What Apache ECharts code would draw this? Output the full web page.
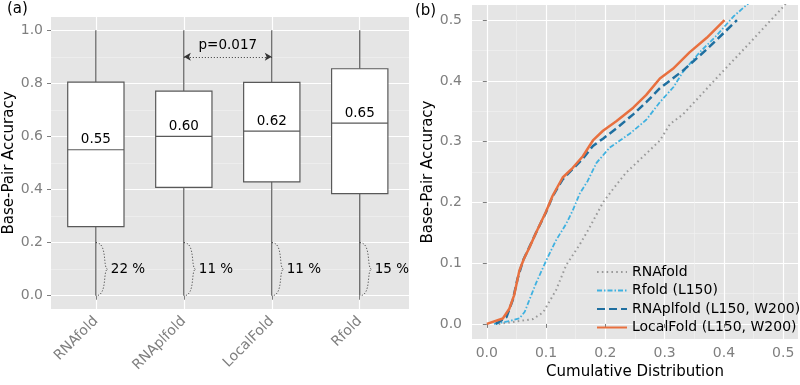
<!DOCTYPE html>
<html>
<head>
<meta charset="utf-8">
<script src="https://cdn.jsdelivr.net/npm/echarts@6/dist/echarts.min.js"></script>
<style>
  html, body { margin: 0; padding: 0; background: #fff; }
  #chart { width: 800px; height: 385px; }
</style>
</head>
<body>
<div id="chart"></div>
<script>
// panel (a): box statistics per method [min, q1, median, q3, max]
const categories = ['RNAfold', 'RNAplfold', 'LocalFold', 'Rfold'];
const boxMin = [0, 0, 0, 0];
const boxQ1 = [0.26, 0.408, 0.429, 0.385];
const boxMedian = [0.55, 0.60, 0.62, 0.65];
const boxQ3 = [0.805, 0.771, 0.804, 0.855];
const boxMax = [1.0, 1.0, 1.0, 1.0];
// share of cases below 0.2 accuracy
const lowShare = [22, 11, 11, 15];
const lowRange = [0, 0.2];
const pValueText = 'p=0.017';
const pValuePair = [2, 3]; // RNAplfold vs LocalFold
const pValueLevel = 0.9;

const ticksA = [0, 0.2, 0.4, 0.6, 0.8, 1.0];
const ticksB = [0, 0.1, 0.2, 0.3, 0.4, 0.5];

// panel (b): [cumulative distribution, base-pair accuracy]
const rnafold = [[0.02, 0], [0.05, 0.004], [0.078, 0.008], [0.095, 0.019], [0.117, 0.056], [0.134, 0.097],
  [0.157, 0.131], [0.173, 0.158], [0.196, 0.2], [0.213, 0.222], [0.235, 0.249], [0.247, 0.26], [0.275, 0.286],
  [0.292, 0.302], [0.309, 0.329], [0.331, 0.345], [0.387, 0.404], [0.444, 0.463], [0.5, 0.522], [0.51, 0.535]];
const rfold = [[0.012, 0], [0.035, 0.004], [0.055, 0.009], [0.064, 0.02], [0.072, 0.04], [0.083, 0.067],
  [0.1, 0.104], [0.117, 0.138], [0.134, 0.165], [0.145, 0.187], [0.157, 0.215], [0.17, 0.235], [0.185, 0.265],
  [0.207, 0.29], [0.241, 0.313], [0.269, 0.336], [0.292, 0.365], [0.315, 0.39], [0.331, 0.415], [0.359, 0.447],
  [0.387, 0.474], [0.416, 0.506], [0.45, 0.535]];
const rnaplfold = [[0.015, 0], [0.033, 0.011], [0.044, 0.04], [0.052, 0.075], [0.061, 0.104], [0.072, 0.127],
  [0.083, 0.15], [0.1, 0.184], [0.111, 0.21], [0.128, 0.238], [0.145, 0.255], [0.162, 0.272], [0.179, 0.293],
  [0.196, 0.305], [0.219, 0.322], [0.247, 0.345], [0.269, 0.365], [0.292, 0.388], [0.331, 0.417], [0.371, 0.452],
  [0.422, 0.5]];
const localfold = [[0, 0], [0.027, 0.009], [0.038, 0.025], [0.046, 0.047], [0.055, 0.088], [0.063, 0.108],
  [0.072, 0.126], [0.083, 0.15], [0.1, 0.185], [0.111, 0.211], [0.128, 0.241], [0.145, 0.257], [0.162, 0.276],
  [0.179, 0.302], [0.196, 0.318], [0.219, 0.334], [0.247, 0.356], [0.269, 0.377], [0.292, 0.404], [0.314, 0.42],
  [0.342, 0.447], [0.371, 0.471], [0.401, 0.5]];
const lineNames = ['RNAfold', 'Rfold (L150)', 'RNAplfold (L150, W200)', 'LocalFold (L150, W200)'];

const FONT = 'DejaVu Sans';
const GREY_TEXT = '#7f7f7f';
const BG = '#e5e5e5';

const chart = echarts.init(document.getElementById('chart'), null, { renderer: 'canvas' });

const boxData = categories.map((c, i) => [i + 1, boxMin[i], boxQ1[i], boxMedian[i], boxQ3[i], boxMax[i]]);
const braceData = categories.map((c, i) => [i + 1, lowRange[0], lowRange[1], lowShare[i]]);

function renderBox(params, api) {
  const x = api.value(0);
  const half = api.size([1, 0])[0] * 0.32;
  const pMin = api.coord([x, api.value(1)]);
  const pQ1 = api.coord([x, api.value(2)]);
  const pMed = api.coord([x, api.value(3)]);
  const pQ3 = api.coord([x, api.value(4)]);
  const pMax = api.coord([x, api.value(5)]);
  const stroke = '#595959';
  return {
    type: 'group',
    children: [
      { type: 'line', shape: { x1: pMin[0], y1: pMin[1], x2: pQ1[0], y2: pQ1[1] }, style: { stroke: stroke, lineWidth: 1.2 } },
      { type: 'line', shape: { x1: pQ3[0], y1: pQ3[1], x2: pMax[0], y2: pMax[1] }, style: { stroke: stroke, lineWidth: 1.2 } },
      { type: 'rect', shape: { x: pQ3[0] - half, y: pQ3[1], width: half * 2, height: pQ1[1] - pQ3[1] },
        style: { fill: '#fff', stroke: stroke, lineWidth: 1.2 } },
      { type: 'line', shape: { x1: pMed[0] - half, y1: pMed[1], x2: pMed[0] + half, y2: pMed[1] }, style: { stroke: stroke, lineWidth: 1.2 } },
      { type: 'text', style: { text: api.value(3).toFixed(2), x: pMed[0], y: pMed[1] - 3, align: 'center',
        verticalAlign: 'bottom', fill: '#000', font: '13.5px "DejaVu Sans"' } }
    ]
  };
}

function renderBrace(params, api) {
  const x = api.value(0);
  const top = api.coord([x, api.value(2)]);
  const bot = api.coord([x, api.value(1)]);
  const x0 = top[0], yt = top[1], yb = bot[1], ym = (yt + yb) / 2;
  const w = 12;
  const d = 'M' + x0 + ',' + yt +
    ' C' + (x0 + w) + ',' + yt + ' ' + (x0 + 0.55 * w) + ',' + ym + ' ' + (x0 + w) + ',' + ym +
    ' C' + (x0 + 0.55 * w) + ',' + ym + ' ' + (x0 + w) + ',' + yb + ' ' + x0 + ',' + yb;
  return {
    type: 'group',
    children: [
      { type: 'path', shape: { pathData: d }, style: { fill: 'none', stroke: '#333', lineWidth: 1, lineDash: [1, 2] } },
      { type: 'text', style: { text: api.value(3) + ' %', x: x0 + w + 3, y: ym, align: 'left', verticalAlign: 'middle',
        fill: '#000', font: '13.5px "DejaVu Sans"' } }
    ]
  };
}

const gridLine = { show: true, lineStyle: { color: '#fff', width: 1.2 } };
const minorLine = { show: true, lineStyle: { color: '#f2f2f2', width: 0.6 } };
const tickStyle = { show: true, length: 4, lineStyle: { color: GREY_TEXT } };

const option = {
  animation: false,
  backgroundColor: '#fff',
  textStyle: { fontFamily: FONT },
  graphic: [
    { type: 'text', left: 7, top: 2, style: { text: '(a)', font: '15px "DejaVu Sans"', fill: '#000' } },
    { type: 'text', left: 415, top: 4, style: { text: '(b)', font: '15px "DejaVu Sans"', fill: '#000' } }
  ],
  grid: [
    { left: 51, top: 17, width: 358, height: 292, show: true, backgroundColor: BG, borderWidth: 0 },
    { left: 472, top: 5, width: 326, height: 342, show: true, backgroundColor: BG, borderWidth: 0 }
  ],
  legend: {
    data: lineNames,
    orient: 'vertical',
    left: 591,
    top: 260,
    itemWidth: 30,
    itemHeight: 14,
    itemGap: 4.5,
    itemStyle: { opacity: 0 },
    textStyle: { fontSize: 14, color: '#000', fontFamily: FONT },
    backgroundColor: 'transparent'
  },
  xAxis: [
    {
      gridIndex: 0, type: 'value', min: 0.49, max: 4.56,
      axisLine: { show: false },
      axisTick: Object.assign({ customValues: [1, 2, 3, 4] }, tickStyle),
      axisLabel: { customValues: [1, 2, 3, 4], formatter: v => categories[Math.round(v) - 1], rotate: 45,
        color: GREY_TEXT, fontSize: 14, margin: 10 },
      splitLine: gridLine
    },
    {
      gridIndex: 1, type: 'value', min: -0.025, max: 0.525,
      name: 'Cumulative Distribution', nameLocation: 'middle', nameGap: 21,
      nameTextStyle: { fontSize: 15, color: '#000' },
      axisLine: { show: false },
      axisTick: Object.assign({ customValues: ticksB }, tickStyle),
      axisLabel: { customValues: ticksB, formatter: v => v.toFixed(1), color: GREY_TEXT, fontSize: 14, margin: 7 },
      splitLine: gridLine,
      minorTick: { show: false, splitNumber: 2 },
      minorSplitLine: minorLine
    }
  ],
  yAxis: [
    {
      gridIndex: 0, type: 'value', min: -0.05, max: 1.05,
      name: 'Base-Pair Accuracy', nameLocation: 'middle', nameGap: 34,
      nameTextStyle: { fontSize: 15, color: '#000' },
      axisLine: { show: false },
      axisTick: Object.assign({ customValues: ticksA }, tickStyle),
      axisLabel: { customValues: ticksA, formatter: v => v.toFixed(1), color: GREY_TEXT, fontSize: 14, margin: 8 },
      splitLine: gridLine,
      minorTick: { show: false, splitNumber: 2 },
      minorSplitLine: minorLine
    },
    {
      gridIndex: 1, type: 'value', min: -0.025, max: 0.525,
      name: 'Base-Pair Accuracy', nameLocation: 'middle', nameGap: 34,
      nameTextStyle: { fontSize: 15, color: '#000' },
      axisLine: { show: false },
      axisTick: Object.assign({ customValues: ticksB }, tickStyle),
      axisLabel: { customValues: ticksB, formatter: v => v.toFixed(1), color: GREY_TEXT, fontSize: 14, margin: 10 },
      splitLine: gridLine,
      minorTick: { show: false, splitNumber: 2 },
      minorSplitLine: minorLine
    }
  ],
  series: [
    {
      type: 'custom', name: 'boxes', xAxisIndex: 0, yAxisIndex: 0,
      renderItem: renderBox, data: boxData, z: 3,
      markLine: {
        silent: true,
        symbol: ['arrow', 'arrow'],
        symbolSize: [6, 7],
        lineStyle: { type: [1, 2], color: '#333', width: 1.2 },
        label: { show: true, position: 'middle', formatter: pValueText, color: '#000', fontSize: 13.5, distance: 4 },
        data: [[{ coord: [pValuePair[0], pValueLevel] }, { coord: [pValuePair[1], pValueLevel] }]]
      }
    },
    {
      type: 'custom', name: 'braces', xAxisIndex: 0, yAxisIndex: 0,
      renderItem: renderBrace, data: braceData, z: 3
    },
    {
      type: 'line', name: lineNames[0], xAxisIndex: 1, yAxisIndex: 1, data: rnafold,
      symbol: 'none', color: '#9a9a9a', lineStyle: { color: '#9a9a9a', width: 2, type: [1.6, 3.2] }
    },
    {
      type: 'line', name: lineNames[1], xAxisIndex: 1, yAxisIndex: 1, data: rfold,
      symbol: 'none', color: '#3fb1e0', lineStyle: { color: '#3fb1e0', width: 1.8, type: [5, 2, 1.5, 2] }
    },
    {
      type: 'line', name: lineNames[2], xAxisIndex: 1, yAxisIndex: 1, data: rnaplfold,
      symbol: 'none', color: '#1f6fa0', lineStyle: { color: '#1f6fa0', width: 2.5, type: [8, 4] }
    },
    {
      type: 'line', name: lineNames[3], xAxisIndex: 1, yAxisIndex: 1, data: localfold,
      symbol: 'none', color: '#e8703f', lineStyle: { color: '#e8703f', width: 2.5 }
    }
  ]
};

chart.setOption(option);
</script>
</body>
</html>
